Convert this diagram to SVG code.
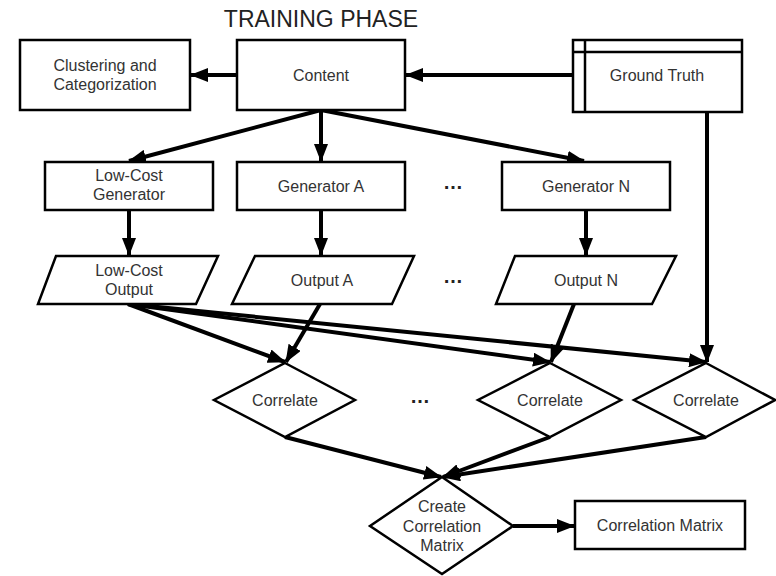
<svg xmlns="http://www.w3.org/2000/svg" width="776" height="576" viewBox="0 0 776 576">
  <style>
    .box { fill: #fff; stroke: #000; stroke-width: 2.5; }
    .lbl { font-family: "Liberation Sans", Arial, sans-serif; font-size: 16px; fill: #333; text-anchor: middle; }
    .title { font-family: "Liberation Sans", Arial, sans-serif; font-size: 23px; fill: #222; text-anchor: middle; }
    .edge { fill: none; stroke: #000; stroke-width: 4; marker-end: url(#arrow); }
    .dots { font-family: "Liberation Sans", Arial, sans-serif; font-size: 20px; font-weight: bold; fill: #222; text-anchor: middle; }
  </style>
  <defs>
    <marker id="arrow" markerUnits="userSpaceOnUse" markerWidth="18" markerHeight="14" viewBox="0 0 18 14" refX="17" refY="7" orient="auto">
      <path d="M0,0 L18,7 L0,14 Z" fill="#000"/>
    </marker>
  </defs>
  <rect width="776" height="576" fill="#fff"/>

  <text class="title" x="321" y="27">TRAINING PHASE</text>

  <!-- connectors -->
  <g id="connectors">
    <line class="edge" x1="237" y1="75" x2="191" y2="75"/>
    <line class="edge" x1="573" y1="75" x2="406" y2="75"/>
    <line class="edge" x1="321" y1="110" x2="129" y2="161"/>
    <line class="edge" x1="321" y1="110" x2="321" y2="161"/>
    <line class="edge" x1="321" y1="110" x2="584" y2="161"/>
    <line class="edge" x1="129" y1="210" x2="129" y2="255"/>
    <line class="edge" x1="321" y1="210" x2="321" y2="255"/>
    <line class="edge" x1="586" y1="210" x2="586" y2="255"/>
    <line class="edge" x1="128" y1="304" x2="285" y2="362"/>
    <line class="edge" x1="128" y1="304" x2="550" y2="362"/>
    <line class="edge" x1="128" y1="304" x2="706" y2="362"/>
    <line class="edge" x1="320" y1="304" x2="286" y2="362"/>
    <line class="edge" x1="574" y1="304" x2="551" y2="362"/>
    <line class="edge" x1="707" y1="112" x2="707" y2="362"/>
    <line class="edge" x1="285" y1="437" x2="441" y2="477"/>
    <line class="edge" x1="550" y1="437" x2="443" y2="477"/>
    <line class="edge" x1="706" y1="437" x2="443" y2="477"/>
    <line class="edge" x1="513" y1="526" x2="574" y2="526"/>
  </g>

  <g id="clustering">
    <rect class="box" x="20" y="40" width="170" height="70"/>
    <text class="lbl" x="105" y="71">Clustering and</text>
    <text class="lbl" x="105" y="90">Categorization</text>
  </g>

  <g id="content">
    <rect class="box" x="237" y="40" width="168" height="70"/>
    <text class="lbl" x="321" y="81">Content</text>
  </g>

  <g id="ground-truth">
    <rect class="box" x="573" y="40" width="169" height="72"/>
    <line x1="585" y1="40" x2="585" y2="112" stroke="#000" stroke-width="2.5"/>
    <line x1="573" y1="52" x2="742" y2="52" stroke="#000" stroke-width="2.5"/>
    <text class="lbl" x="657" y="81">Ground Truth</text>
  </g>

  <g id="low-cost-generator">
    <rect class="box" x="45" y="162" width="168" height="48"/>
    <text class="lbl" x="129" y="181">Low-Cost</text>
    <text class="lbl" x="129" y="200">Generator</text>
  </g>

  <g id="generator-a">
    <rect class="box" x="237" y="162" width="168" height="48"/>
    <text class="lbl" x="321" y="192">Generator A</text>
  </g>

  <text class="dots" x="453" y="189">…</text>

  <g id="generator-n">
    <rect class="box" x="502" y="162" width="168" height="48"/>
    <text class="lbl" x="586" y="192">Generator N</text>
  </g>

  <g id="low-cost-output">
    <polygon class="box" points="56,256 218,256 196,304 38,304"/>
    <text class="lbl" x="129" y="276">Low-Cost</text>
    <text class="lbl" x="129" y="295">Output</text>
  </g>

  <g id="output-a">
    <polygon class="box" points="255,256 414,256 392,304 232,304"/>
    <text class="lbl" x="322" y="286">Output A</text>
  </g>

  <text class="dots" x="453" y="283">…</text>

  <g id="output-n">
    <polygon class="box" points="515,256 676,256 652,304 496,304"/>
    <text class="lbl" x="586" y="286">Output N</text>
  </g>

  <g id="correlate-1">
    <polygon class="box" points="285,363 355,400 285,437 214,400"/>
    <text class="lbl" x="285" y="406">Correlate</text>
  </g>

  <text class="dots" x="420" y="403">…</text>

  <g id="correlate-2">
    <polygon class="box" points="550,363 621,400 550,437 478,400"/>
    <text class="lbl" x="550" y="406">Correlate</text>
  </g>

  <g id="correlate-3">
    <polygon class="box" points="706,363 775,400 706,437 634,400"/>
    <text class="lbl" x="706" y="406">Correlate</text>
  </g>

  <g id="create-matrix">
    <polygon class="box" points="442,477 513,526 442,574 370,526"/>
    <text class="lbl" x="442" y="512">Create</text>
    <text class="lbl" x="442" y="532">Correlation</text>
    <text class="lbl" x="442" y="551">Matrix</text>
  </g>

  <g id="correlation-matrix">
    <rect class="box" x="575" y="501" width="170" height="48"/>
    <text class="lbl" x="660" y="531">Correlation Matrix</text>
  </g>
</svg>
